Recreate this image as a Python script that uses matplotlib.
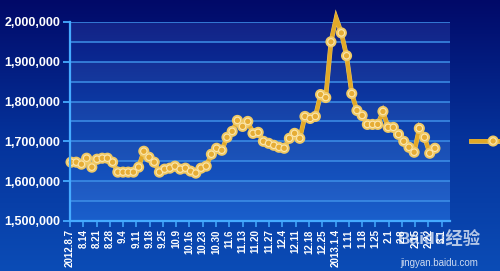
import numpy as np
import matplotlib
matplotlib.use("Agg")
import matplotlib.pyplot as plt
import matplotlib.patheffects as pe
from matplotlib.colors import LinearSegmentedColormap

plt.rcParams['font.family'] = ['Liberation Sans', 'Noto Sans CJK SC', 'DejaVu Sans']

# weekly tick labels on the x axis
tick_labels = ['2012.8.7', '8.14', '8.21', '8.28', '9.4', '9.11', '9.18', '9.25',
               '10.9', '10.16', '10.23', '10.30', '11.6', '11.13', '11.20', '11.27',
               '12.4', '12.11', '12.18', '12.25', '2013.1.4', '1.11', '1.18', '1.25',
               '2.1', '2.8', '2.15', '2.22', '3.1']

# series values
values = [1647500, 1647500, 1642500, 1657500, 1635000, 1655000, 1657500, 1657500,
          1647500, 1622500, 1622500, 1622500, 1622500, 1635000, 1675000, 1660000,
          1647500, 1622500, 1630000, 1632500, 1637500, 1630000, 1632500, 1625000,
          1620000, 1632500, 1637500, 1667500, 1682500, 1677500, 1710000, 1725000,
          1752500, 1737500, 1750000, 1720000, 1722500, 1700000, 1695000, 1690000,
          1685000, 1682500, 1707500, 1720000, 1707500, 1762500, 1757500, 1762500,
          1817500, 1810000, 1950000, 2010000, 1972500, 1915000, 1820000, 1777500,
          1765000, 1742500, 1742500, 1742500, 1775000, 1735000, 1735000, 1717500,
          1700000, 1685000, 1672500, 1732500, 1710000, 1670000, 1682500]
peak_idx = 51  # line spike drawn without a marker

x = np.arange(len(values))

fig = plt.figure(figsize=(5.0, 2.71), dpi=100)

# figure background gradient
bg = fig.add_axes([0, 0, 1, 1], zorder=-10)
bg_cmap = LinearSegmentedColormap.from_list('bg', ['#0b4cb6', '#05329a', '#010968'])
bg.imshow(np.linspace(0, 1, 256).reshape(-1, 1), aspect='auto', cmap=bg_cmap,
          origin='lower', extent=[0, 1, 0, 1])
bg.axis('off')

ax = fig.add_axes([0.14, 0.185, 0.76, 0.734])
ax.set_facecolor('none')
plot_cmap = LinearSegmentedColormap.from_list('pa', ['#1a5fcc', '#0e40aa', '#091a82'])
ax.imshow(np.linspace(0, 1, 256).reshape(-1, 1), aspect='auto', cmap=plot_cmap,
          origin='lower', extent=[0, 1, 0, 1], transform=ax.transAxes, zorder=0)

ax.set_ylim(1500000, 2000000)
ax.set_xlim(-0.2, 72.9)

# alternating bands + gridlines every 50k
for lo in np.arange(1500000, 2000000, 100000):
    ax.axhspan(lo + 50000, lo + 100000, color='white', alpha=0.04, zorder=1, lw=0)
for g in np.arange(1550000, 2000001, 50000):
    ax.axhline(g, color='#3d8fe8', lw=1.1, zorder=2)

markers = [i for i in range(len(values)) if i != peak_idx]
line, = ax.plot(x, values, color='#e2a928', lw=2.8, marker='o', markersize=4.6,
                markerfacecolor='#e6ad35', markeredgecolor='#fbe6ad', markeredgewidth=0.8,
                markevery=markers, zorder=5, clip_on=False, solid_joinstyle='miter')
line.set_path_effects([pe.Stroke(linewidth=3.4, foreground='#f0c964'), pe.Normal()])

yt = np.arange(1500000, 2000001, 100000)
ax.set_yticks(yt)
ax.set_yticklabels([f'{v:,}' for v in yt], fontsize=9, fontweight='bold', color='white')

tick_pos = -0.2 + np.arange(len(tick_labels)) * 2.554
ax.set_xticks(tick_pos)
ax.set_xticklabels(tick_labels, rotation=90, fontsize=7, fontweight='bold', color='white')

ax.tick_params(axis='y', color='#45aaff', length=5, width=1.3, pad=2)
ax.tick_params(axis='x', color='#45aaff', length=4, width=1.1, pad=2)
for s in ['top', 'right']:
    ax.spines[s].set_visible(False)
for s in ['left', 'bottom']:
    ax.spines[s].set_color('#45aaff')
    ax.spines[s].set_linewidth(1.6)
    ax.spines[s].set_zorder(6)

# legend, label cut off at the right edge
leg = ax.legend(handles=[line], labels=[''], loc='center left', frameon=False,
                bbox_to_anchor=(1.055, 0.397), borderaxespad=0, borderpad=0,
                handlelength=3.2, markerscale=1.0)

# watermark
fig.text(0.795, 0.1, 'Baidu经验', fontsize=12.5, fontweight='bold', color='white', alpha=0.7)
fig.text(0.8, 0.02, 'jingyan.baidu.com', fontsize=7, color='white', alpha=0.8)

fig.savefig('out.png', dpi=100)
